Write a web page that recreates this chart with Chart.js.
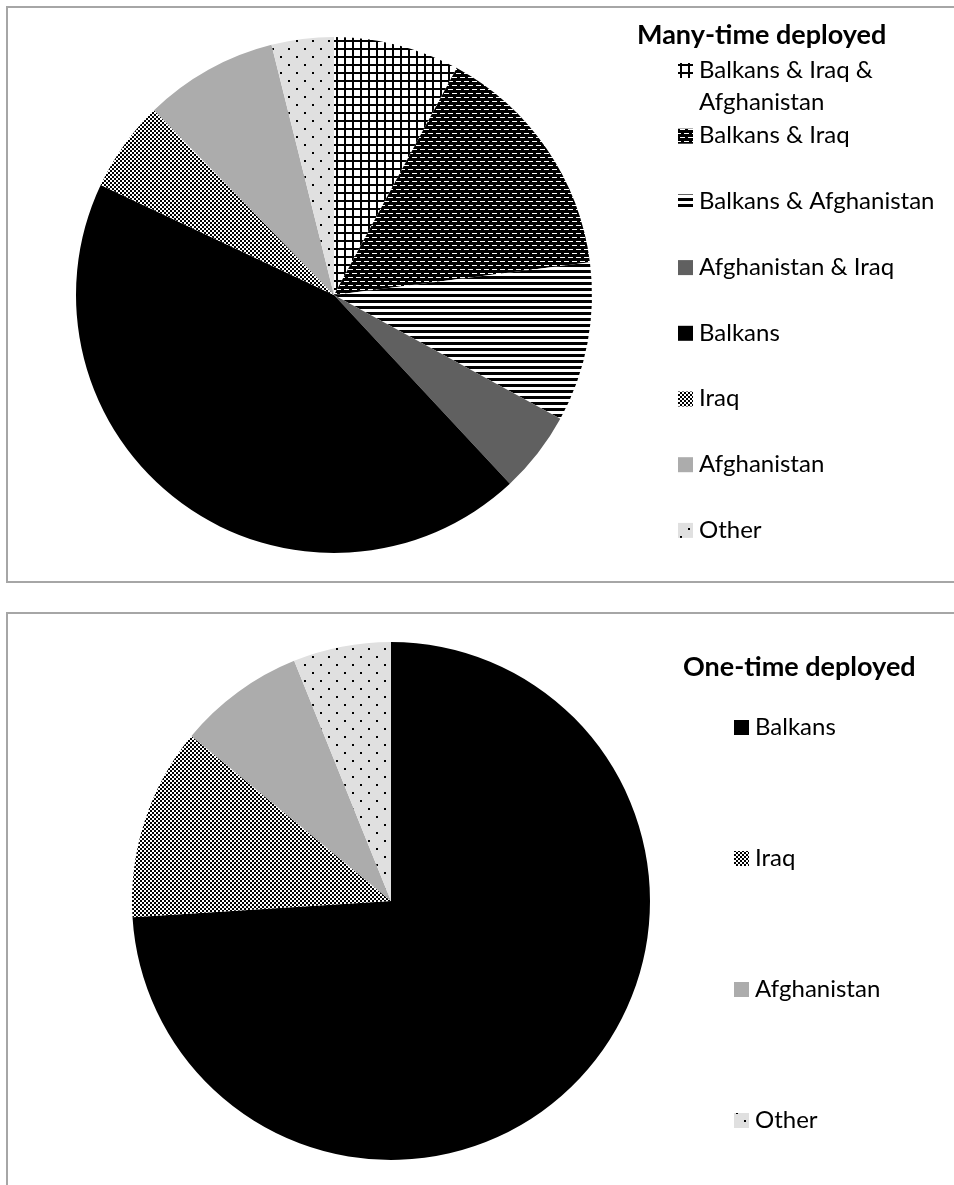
<!DOCTYPE html>
<html>
<head>
<meta charset="utf-8">
<script src="https://cdn.jsdelivr.net/npm/chart.js@4.4.1/dist/chart.umd.min.js"></script>
<style>
  body { margin: 0; background: #fff; width: 954px; height: 1185px; overflow: hidden; position: relative; }
  .frame { position: absolute; border: 2px solid #a6a6a6; box-sizing: border-box; }
  .plot { position: absolute; left: 0; width: 954px; }
</style>
</head>
<body>
<div class="frame" style="left:6px;top:6px;width:1000px;height:577px"></div>
<div class="frame" style="left:6px;top:612px;width:1000px;height:620px"></div>
<div class="plot" style="top:0;height:595px"><canvas id="many"></canvas></div>
<div class="plot" style="top:600px;height:585px"><canvas id="once"></canvas></div>
<script>
// shares of deployments, percent
const manyLabels = ['Balkans & Iraq & Afghanistan', 'Balkans & Iraq', 'Balkans & Afghanistan',
  'Afghanistan & Iraq', 'Balkans', 'Iraq', 'Afghanistan', 'Other'];
const manyShares = [7.9, 15.1, 10.0, 5.1, 44.0, 5.7, 8.4, 3.9];

const onceLabels = ['Balkans', 'Iraq', 'Afghanistan', 'Other'];
const onceShares = [74.0, 12.0, 7.9, 6.1];

// small repeating tiles for the black & white fills
function tile(w, h, paint) {
  const c = document.createElement('canvas');
  c.width = w; c.height = h;
  const g = c.getContext('2d');
  paint(g);
  return g.createPattern(c, 'repeat');
}
const gridFill = tile(8, 8, g => {
  g.fillStyle = '#fff'; g.fillRect(0, 0, 8, 8);
  g.fillStyle = '#000'; g.fillRect(0, 0, 2, 8); g.fillRect(0, 0, 8, 2);
});
const dashFill = tile(8, 8, g => {
  g.fillStyle = '#000'; g.fillRect(0, 0, 8, 8);
  g.fillStyle = '#fff';
  g.fillRect(0, 1, 5, 1);
  g.fillRect(4, 5, 4, 1); g.fillRect(0, 5, 1, 1);
});
const stripeFill = tile(1, 6, g => {
  g.fillStyle = '#fff'; g.fillRect(0, 0, 1, 6);
  g.fillStyle = '#000'; g.fillRect(0, 0, 1, 3);
});
const checkFill = tile(4, 4, g => {
  g.fillStyle = '#fff'; g.fillRect(0, 0, 4, 4);
  g.fillStyle = '#000'; g.fillRect(0, 0, 2, 2); g.fillRect(2, 2, 2, 2);
});
const dotFill = tile(16, 16, g => {
  g.fillStyle = '#e0e0e0'; g.fillRect(0, 0, 16, 16);
  g.fillStyle = '#000'; g.fillRect(0, 0, 2, 2); g.fillRect(8, 8, 2, 2);
});
const fills = {
  'Balkans & Iraq & Afghanistan': gridFill,
  'Balkans & Iraq': dashFill,
  'Balkans & Afghanistan': stripeFill,
  'Afghanistan & Iraq': '#606060',
  'Balkans': '#000000',
  'Iraq': checkFill,
  'Afghanistan': '#acacac',
  'Other': dotFill
};

function wrap(ctx, text, maxWidth) {
  const words = text.split(' ');
  const lines = [];
  let cur = '';
  words.forEach(w => {
    const next = cur ? cur + ' ' + w : w;
    if (cur && ctx.measureText(next).width > maxWidth) { lines.push(cur); cur = w; }
    else cur = next;
  });
  lines.push(cur);
  return lines;
}

// legend on the right: bold title, then one swatch + label per slice
const sideLegend = {
  id: 'sideLegend',
  afterDraw(chart, args, opts) {
    const ctx = chart.ctx;
    const ds = chart.data.datasets[0];
    ctx.save();
    ctx.textBaseline = 'middle';
    ctx.fillStyle = '#000';
    ctx.font = 'bold 27px Lato';
    ctx.fillText(opts.title, opts.titleX, opts.titleY);
    ctx.font = '24px Lato';
    chart.data.labels.forEach((label, i) => {
      const y = opts.top + i * opts.step;
      ctx.fillStyle = ds.backgroundColor[i];
      ctx.fillRect(opts.x, y - 7, 15, 15);
      ctx.fillStyle = '#000';
      wrap(ctx, label, opts.maxWidth).forEach((line, k) => {
        ctx.fillText(line, opts.x + 21, y + k * 32);
      });
    });
    ctx.restore();
  }
};

function makePie(id, labels, values, padding, legend) {
  return new Chart(document.getElementById(id), {
    type: 'pie',
    data: {
      labels: labels,
      datasets: [{
        data: values,
        backgroundColor: labels.map(l => fills[l]),
        borderWidth: 0
      }]
    },
    options: {
      responsive: true,
      maintainAspectRatio: false,
      animation: false,
      events: [],
      layout: { padding: padding },
      plugins: {
        legend: { display: false },
        tooltip: { enabled: false },
        sideLegend: legend
      }
    },
    plugins: [sideLegend]
  });
}

makePie('many', manyLabels, manyShares,
  { left: 76, right: 362, top: 37, bottom: 42 },
  { title: 'Many-time deployed', titleX: 637, titleY: 35, x: 678, top: 70, step: 65.7, maxWidth: 250 });

makePie('once', onceLabels, onceShares,
  { left: 132, right: 304, top: 42, bottom: 25 },
  { title: 'One-time deployed', titleX: 683, titleY: 67, x: 734, top: 127, step: 131, maxWidth: 190 });
</script>
</body>
</html>
